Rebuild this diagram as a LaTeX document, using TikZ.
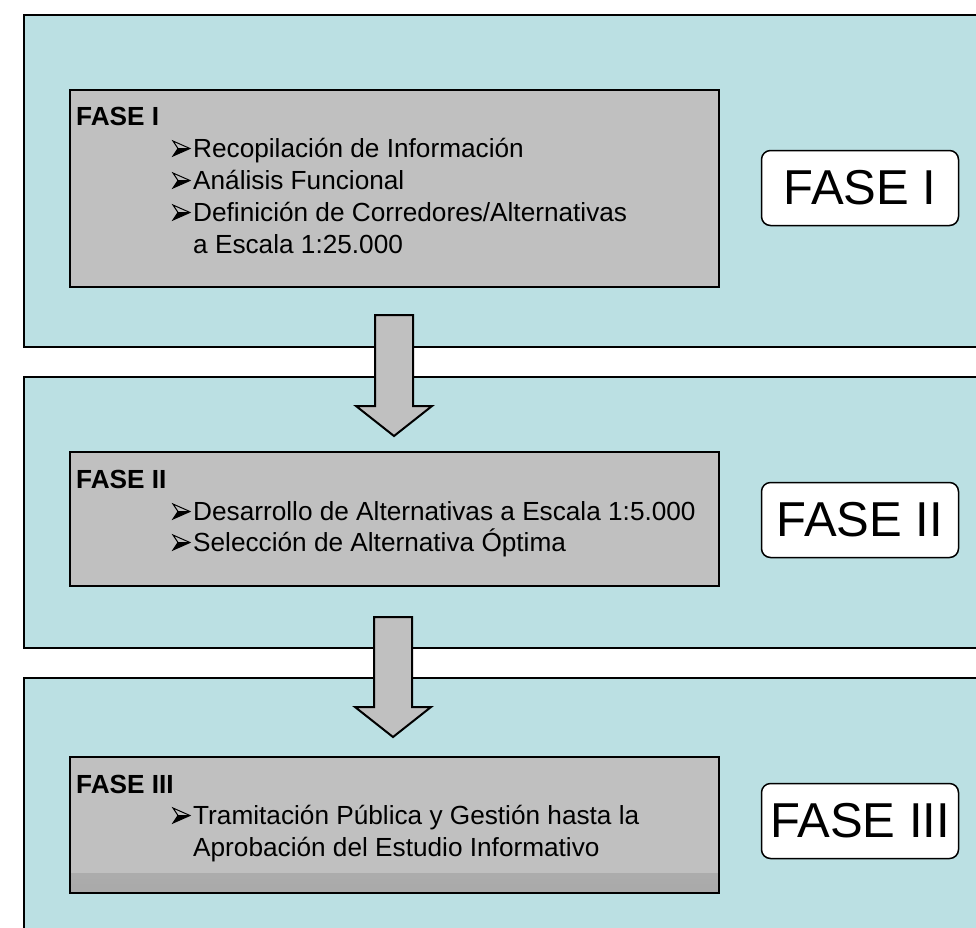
\documentclass[tikz,border=0pt]{standalone}
\usepackage{fontspec}
\setmainfont{Liberation Sans}
\usepackage{xcolor}

\definecolor{celeste}{RGB}{187,224,227}
\definecolor{gris}{RGB}{192,192,192}

\tikzset{
  bloque/.style={draw=black, line width=2pt, fill=celeste, anchor=north west, inner sep=0pt},
  caja/.style={draw=black, line width=2pt, fill=gris, anchor=north west, minimum width=649pt, inner sep=0pt},
  etiqueta/.style={draw=black, line width=1.5pt, fill=white, rounded corners=9pt, minimum width=197pt, minimum height=75pt, inner sep=0pt, font=\fontsize{49}{58}\selectfont},
  texto/.style={anchor=base west, inner sep=0pt, font=\fontsize{26.2}{32}\selectfont},
  flecha/.style={draw=black, line width=2pt, fill=gris, line join=miter},
  % punta de flecha de las listas
  vineta/.pic={
    \fill[black] (5,-8.5) -- (17,-8.5) -- (0,-1) -- cycle;
    \draw[line width=1pt, line join=miter] (0,-16) -- (17,-8.5) -- (0,-1) -- (5,-8.5) -- cycle (5,-8.5) -- (17,-8.5);
  }
}

\begin{document}
\begin{tikzpicture}[x=1pt,y=-1pt]
\useasboundingbox (0,0) rectangle (976,927);
\clip (0,0) rectangle (976,927);

% Fase I
\node[bloque, minimum width=990pt, minimum height=332pt] (bloque1) at (23,14) {};
\node[caja, minimum height=197pt] (caja1) at (69,89) {};
\node[texto] (tit1) at (76,125) {\textbf{FASE I}};
\pic at (173,157) {vineta};
\node[texto] (item11) at (193,157) {Recopilación de Información};
\pic at (173,189) {vineta};
\node[texto] (item12) at (193,189) {Análisis Funcional};
\pic at (173,221) {vineta};
\node[texto] (item13) at (193,221) {Definición de Corredores/Alternativas};
\node[texto] (item14) at (193,253) {a Escala 1:25.000};
\node[etiqueta] (fase1) at (860,188) {FASE I};

% Fase II
\node[bloque, minimum width=990pt, minimum height=271pt] (bloque2) at (23,376) {};
\node[caja, minimum height=134pt] (caja2) at (69,451) {};
\node[texto] (tit2) at (76,488) {\textbf{FASE II}};
\pic at (173,520) {vineta};
\node[texto] (item21) at (193,520) {Desarrollo de Alternativas a Escala 1:5.000};
\pic at (173,551) {vineta};
\node[texto] (item22) at (193,551) {Selección de Alternativa Óptima};
\node[etiqueta] (fase2) at (860,520) {FASE II};

% Fase III
\node[bloque, minimum width=990pt, minimum height=300pt] (bloque3) at (23,677) {};
\node[caja, minimum height=136pt,
  path picture={\shade[top color=gris, bottom color=gris!88!black]
    ([yshift=20pt]path picture bounding box.south west) rectangle (path picture bounding box.south east);}]
  (caja3) at (69,756) {};
\node[texto] (tit3) at (76,793) {\textbf{FASE III}};
\pic at (173,824) {vineta};
\node[texto] (item31) at (193,824) {Tramitación Pública y Gestión hasta la};
\node[texto] (item32) at (193,856) {Aprobación del Estudio Informativo};
\node[etiqueta] (fase3) at (860,821) {FASE III};

% Flechas
\draw[flecha] (375,315) -- (413,315) -- (413,406) -- (432,406) -- (394,436) -- (356,406) -- (375,406) -- cycle;
\draw[flecha] (374,617) -- (412,617) -- (412,707) -- (431,707) -- (393,737) -- (355,707) -- (374,707) -- cycle;
\end{tikzpicture}
\end{document}
